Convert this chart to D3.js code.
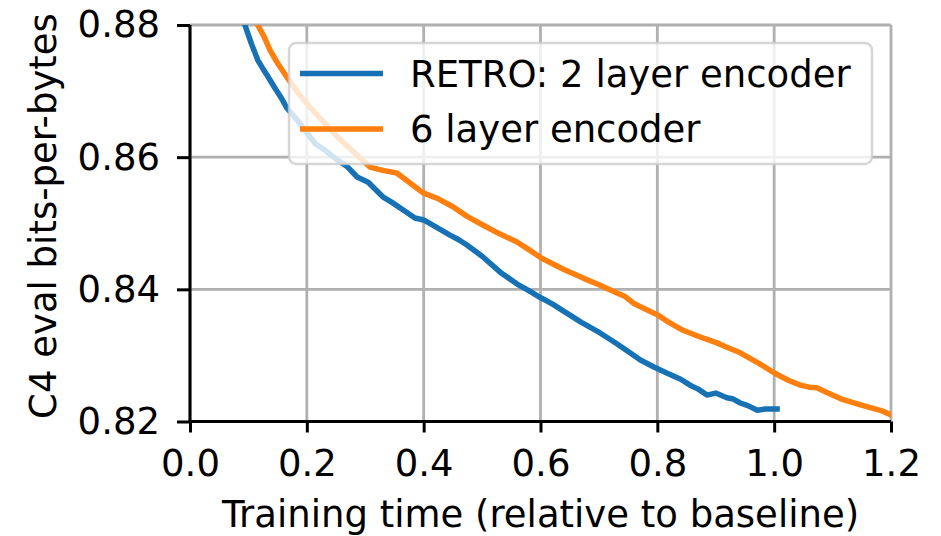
<!DOCTYPE html>
<html><head><meta charset="utf-8">
<script src="https://cdn.jsdelivr.net/npm/d3@7"></script>
<style>body{margin:0;background:#fff}</style>
</head><body>
<script>
// ---- data ----
const xTicks = [0.0, 0.2, 0.4, 0.6, 0.8, 1.0, 1.2];
const yTicks = [0.82, 0.84, 0.86, 0.88];
const seriesNames = ["RETRO: 2 layer encoder", "6 layer encoder"];
const blueX = [0.085,0.094,0.105,0.116,0.124,0.132,0.145,0.156,0.166,0.18,0.2,0.215,0.232,0.252,0.27,0.286,0.305,0.33,0.345,0.365,0.385,0.4,0.42,0.445,0.46,0.474,0.5,0.531,0.56,0.58,0.599,0.62,0.645,0.67,0.702,0.73,0.75,0.771,0.795,0.817,0.84,0.856,0.87,0.885,0.9,0.919,0.93,0.942,0.955,0.971,0.985,1.005];
const blueY = [0.8815,0.88,0.8772,0.8747,0.8735,0.8724,0.8705,0.869,0.8674,0.866,0.8637,0.862,0.861,0.8596,0.8585,0.857,0.8562,0.854,0.8532,0.852,0.8508,0.8505,0.8495,0.8482,0.8475,0.8467,0.845,0.8426,0.8408,0.8398,0.8388,0.8378,0.8364,0.835,0.8334,0.8318,0.8306,0.8293,0.8282,0.8273,0.8264,0.8255,0.8249,0.824,0.8243,0.8236,0.8234,0.8228,0.8224,0.8217,0.8219,0.8219];
const orangeX = [0.108,0.116,0.127,0.137,0.15,0.166,0.185,0.205,0.23,0.252,0.28,0.308,0.33,0.354,0.375,0.399,0.425,0.45,0.475,0.502,0.53,0.559,0.58,0.602,0.64,0.673,0.7,0.73,0.745,0.759,0.78,0.801,0.82,0.844,0.87,0.902,0.92,0.942,0.97,1.001,1.025,1.045,1.06,1.073,1.095,1.118,1.145,1.169,1.185,1.2];
const orangeY = [0.8815,0.88,0.8782,0.8762,0.8742,0.8721,0.8697,0.8676,0.8652,0.8631,0.8608,0.8585,0.858,0.8576,0.8562,0.8546,0.8537,0.8525,0.851,0.8497,0.8484,0.8472,0.846,0.8447,0.843,0.8417,0.8407,0.8395,0.8389,0.8379,0.837,0.8361,0.835,0.8338,0.8329,0.8319,0.8312,0.8304,0.829,0.8273,0.8262,0.8255,0.8252,0.8251,0.8242,0.8233,0.8226,0.822,0.8216,0.821];
const colors = ["#1672b4", "#ff7f0e"];

// ---- layout ----
const W = 941, H = 536;
const x0 = 190, x1 = 891, y0 = 25, y1 = 421.5;
const FONT = "DejaVu Sans";
const FS = 37;

const svg = d3.select("body").append("svg").attr("width", W).attr("height", H)
  .style("font-family", FONT);

const x = d3.scaleLinear().domain([0, 1.2]).range([x0, x1]);
const y = d3.scaleLinear().domain([0.82, 0.88]).range([y1, y0]);

// grid
const g = svg.append("g");
g.selectAll(".vg").data(xTicks).join("line")
  .attr("x1", d => x(d)).attr("x2", d => x(d)).attr("y1", y0).attr("y2", y1)
  .attr("stroke", "#b0b0b0").attr("stroke-width", 2.8);
g.selectAll(".hg").data(yTicks).join("line")
  .attr("x1", x0).attr("x2", x1).attr("y1", d => y(d)).attr("y2", d => y(d))
  .attr("stroke", "#b0b0b0").attr("stroke-width", 2.8);

// clip
svg.append("clipPath").attr("id", "clip").append("rect")
  .attr("x", x0).attr("y", y0).attr("width", x1 - x0).attr("height", y1 - y0);

const line = d3.line().x(d => x(d[0])).y(d => y(d[1]));
const series = [d3.zip(blueX, blueY), d3.zip(orangeX, orangeY)];
svg.append("g").attr("clip-path", "url(#clip)")
  .selectAll("path").data(series).join("path")
  .attr("d", line).attr("fill", "none")
  .attr("stroke", (d, i) => colors[i]).attr("stroke-width", 5.5)
  .attr("stroke-linejoin", "round").attr("stroke-linecap", "square");

// axes
const xAxis = d3.axisBottom(x).tickValues(xTicks).tickFormat(d3.format(".1f"))
  .tickSize(11).tickPadding(17);
const yAxis = d3.axisLeft(y).tickValues(yTicks).tickFormat(d3.format(".2f"))
  .tickSize(13).tickPadding(17);
const gx = svg.append("g").attr("transform", `translate(0,${y1})`).call(xAxis);
const gy = svg.append("g").attr("transform", `translate(${x0},0)`).call(yAxis);
[gx, gy].forEach(a => {
  a.select(".domain").attr("stroke", "#000").attr("stroke-width", 3);
  a.selectAll(".tick line").attr("stroke", "#000").attr("stroke-width", 3);
  a.selectAll(".tick text").attr("fill", "#000").style("font-size", FS + "px").style("font-family", FONT);
});
gx.select(".domain").attr("d", `M${x0 - 1.5},0H${x1}`);
gy.select(".domain").attr("d", `M0,${y0}V${y1 + 1.5}`);

// axis labels
svg.append("text").attr("x", (x0 + x1) / 2).attr("y", 527).attr("text-anchor", "middle")
  .style("font-size", FS + "px").text("Training time (relative to baseline)");
svg.append("text").attr("transform", `translate(56,216) rotate(-90)`)
  .attr("text-anchor", "middle").style("font-size", FS + "px").text("C4 eval bits-per-bytes");

// legend
const lg = svg.append("g");
lg.append("rect").attr("x", 289).attr("y", 43).attr("width", 583).attr("height", 121)
  .attr("rx", 7).attr("fill", "#fff").attr("fill-opacity", 0.8)
  .attr("stroke", "#cccccc").attr("stroke-opacity", 0.8).attr("stroke-width", 2.5);
const ly = [73.5, 129];
seriesNames.forEach((n, i) => {
  lg.append("line").attr("x1", 300).attr("x2", 383).attr("y1", ly[i]).attr("y2", ly[i])
    .attr("stroke", colors[i]).attr("stroke-width", 5.5);
  lg.append("text").attr("x", 410).attr("y", ly[i] + 13).style("font-size", FS + "px").text(n);
});
</script>
</body></html>
